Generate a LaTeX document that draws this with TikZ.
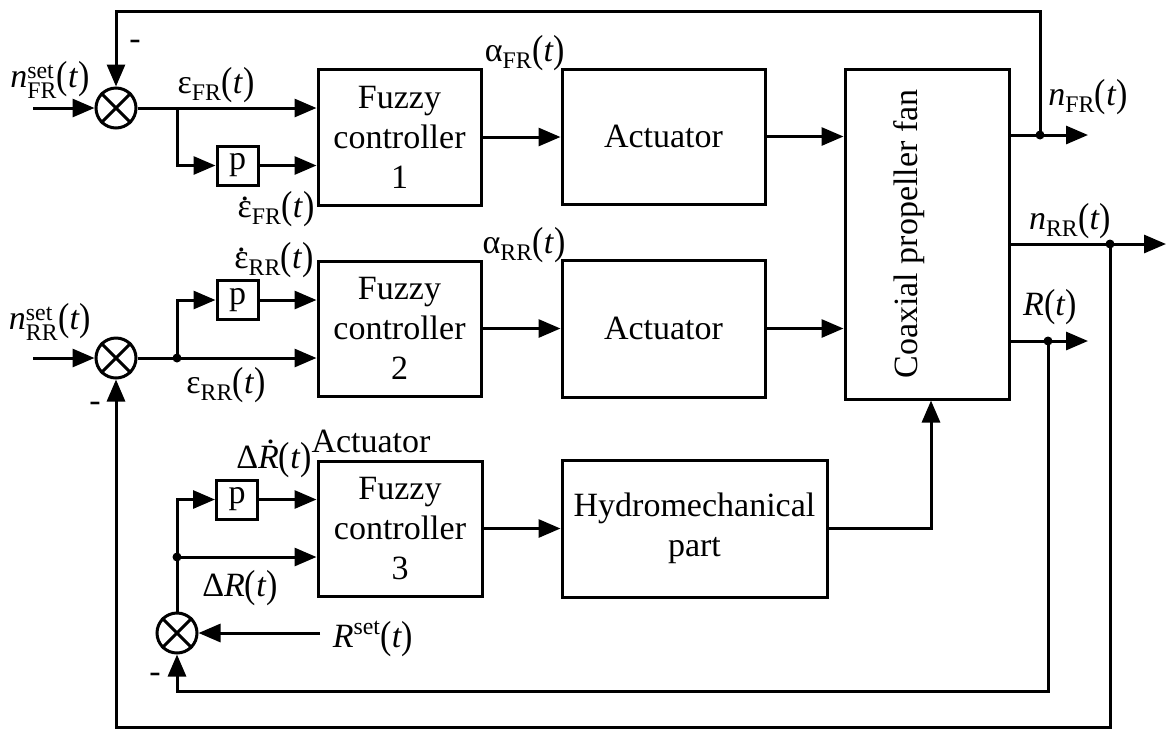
\documentclass[tikz,border=0pt]{standalone}
\usepackage{amsmath}
\usepackage{graphicx}
\usepackage{fontspec}
\setmainfont{Liberation Serif}
\usetikzlibrary{arrows.meta,calc}
\newcommand{\argt}{\text{\raisebox{-0.03em}{\scalebox{1}[1.15]{(}}\textit{t}\raisebox{-0.03em}{\scalebox{1}[1.15]{)}}}}
\newcommand{\dotover}[3]{\ooalign{#1\cr\hidewidth\kern#3\raisebox{#2}{.}\hidewidth\cr}}
\begin{document}
\begin{tikzpicture}[x=1pt,y=-1pt,
  every node/.style={font=\fontsize{34}{40}\selectfont},
  block/.style={draw, line width=3pt, inner sep=0pt, align=center},
  pbox/.style={draw, line width=3pt, minimum width=41pt, minimum height=39pt, inner sep=0pt},
  sumj/.style={draw, circle, line width=3pt, minimum size=40pt, inner sep=0pt},
  conn/.style={line width=3pt},
  arr/.style={conn, -{Triangle[length=22pt,width=18pt]}},
  dot/.style={circle, fill, inner sep=0pt, minimum size=9pt},
  lbl/.style={inner sep=0pt, anchor=center}]
\useasboundingbox (0,0) rectangle (1166,729);

% summing junctions
\node[sumj] (s1) at (116,108) {};
\node[sumj] (s2) at (116,358) {};
\node[sumj] (s3) at (177,633) {};
\foreach \s in {s1,s2,s3} {\draw[conn] (\s.45) -- (\s.225) (\s.135) -- (\s.315);}

% blocks
\node[block, minimum width=163pt, minimum height=136pt] (fc1) at (399.5,137) {Fuzzy\\controller\\1};
\node[block, minimum width=163pt, minimum height=135pt] (fc2) at (399.5,328.5) {Fuzzy\\controller\\2};
\node[block, minimum width=164pt, minimum height=135pt] (fc3) at (400,528.5) {Fuzzy\\controller\\3};
\node[block, minimum width=203pt, minimum height=135pt] (act1) at (663.5,136.5) {Actuator};
\node[block, minimum width=203pt, minimum height=137pt] (act2) at (663.5,328.5) {Actuator};
\node[block, minimum width=265pt, minimum height=137pt] (hydro) at (694.5,528.5) {Hydromechanical\\part};
\node[block, minimum width=164pt, minimum height=330pt] (coax) at (927,234) {};
\node[lbl, rotate=90] (coaxt) at (909,234) {Coaxial propeller fan};

\node[pbox] (p1) at (237.5,165.5) {p};
\node[pbox] (p2) at (237.5,300) {p};
\node[pbox] (p3) at (237,499.5) {p};

% points
\coordinate (in1) at (33,108);
\coordinate (in2) at (33,358);
\coordinate (b1) at (177,108);
\coordinate (top) at (116,11);
\coordinate (bot) at (116,727);
\coordinate (rb) at (177,691);
\coordinate (rset) at (320,633);
\coordinate (o1) at (1088,135);
\coordinate (o2) at (1166,244);
\coordinate (o3) at (1088,341);
\node[dot] (d1) at (1040,135) {};
\node[dot] (d2) at (1110,244) {};
\node[dot] (d3) at (1048,341) {};
\node[dot] (d4) at (177,358) {};
\node[dot] (d5) at (177,557) {};

% FR loop
\draw[arr] (in1) -- (s1.west);
\draw[arr] (s1.east) -- (s1.east -| fc1.west);
\draw[arr] (b1) |- (p1.west);
\draw[arr] (p1.east) -- (p1.east -| fc1.west);
\draw[arr] (fc1.east) -- (fc1.east -| act1.west);
\draw[arr] (act1.east) -- (act1.east -| coax.west);
\draw[arr] (coax.east |- o1) -- (o1);
\draw[arr] (d1.center) -- (d1 |- top) -| (s1.north);

% RR loop
\draw[arr] (in2) -- (s2.west);
\draw[arr] (s2.east) -- (s2.east -| fc2.west);
\draw[arr] (d4.center) |- (p2.west);
\draw[arr] (p2.east) -- (p2.east -| fc2.west);
\draw[arr] (fc2.east) -- (fc2.east -| act2.west);
\draw[arr] (act2.east) -- (act2.east -| coax.west);
\draw[arr] (coax.east |- o2) -- (o2);
\draw[arr] (d2.center) |- (bot) -- (s2.south);

% R loop
\draw[arr] (rset) -- (s3.east);
\draw[conn] (s3.north) -- (d5.center);
\draw[arr] (d5.center) -- (d5 -| fc3.west);
\draw[arr] (d5.center) |- (p3.west);
\draw[arr] (p3.east) -- (p3.east -| fc3.west);
\draw[arr] (fc3.east) -- (fc3.east -| hydro.west);
\draw[arr] (hydro.east) -| ([xshift=4pt]coax.south);
\draw[arr] (coax.east |- o3) -- (o3);
\draw[arr] (d3.center) |- (rb) -- (s3.south);

% labels
\node[lbl] (lnfr) at (50,80) {$\textit{n}^{\text{set}}_{\text{FR}}\argt$};
\node[lbl] (minus1) at (135,45) {-};
\node[lbl] (lefr) at (216,85) {$\text{ε}_{\text{FR}}\argt$};
\node[lbl] (ldefr) at (276,209) {$\text{\dotover{ε}{0.5em}{0pt}}_{\text{FR}}\argt$};
\node[lbl] (lafr) at (525,53) {$\text{α}_{\text{FR}}\argt$};
\node[lbl] (lderr) at (274,260) {$\text{\dotover{ε}{0.5em}{0pt}}_{\text{RR}}\argt$};
\node[lbl] (larr) at (524,245) {$\text{α}_{\text{RR}}\argt$};
\node[lbl] (lnrr) at (50,322) {$\textit{n}^{\text{set}}_{\text{RR}}\argt$};
\node[lbl] (lerr) at (226,385) {$\text{ε}_{\text{RR}}\argt$};
\node[lbl] (minus2) at (95,407) {-};
\node[lbl] (ldr) at (274,460) {$\text{Δ}\text{\dotover{\textit{R}}{0.72em}{0.12em}}\argt$};
\node[lbl] (lact) at (371,441) {Actuator};
\node[lbl] (lr) at (240,588) {$\text{Δ}\textit{R}\argt$};
\node[lbl] (lrset) at (373,639) {$\textit{R}^{\text{set}}\argt$};
\node[lbl] (minus3) at (155,678) {-};
\node[lbl] (lnfro) at (1088,97) {$\textit{n}_{\text{FR}}\argt$};
\node[lbl] (lnrro) at (1070,221) {$\textit{n}_{\text{RR}}\argt$};
\node[lbl] (lro) at (1050,307) {$\textit{R}\argt$};
\end{tikzpicture}
\end{document}
